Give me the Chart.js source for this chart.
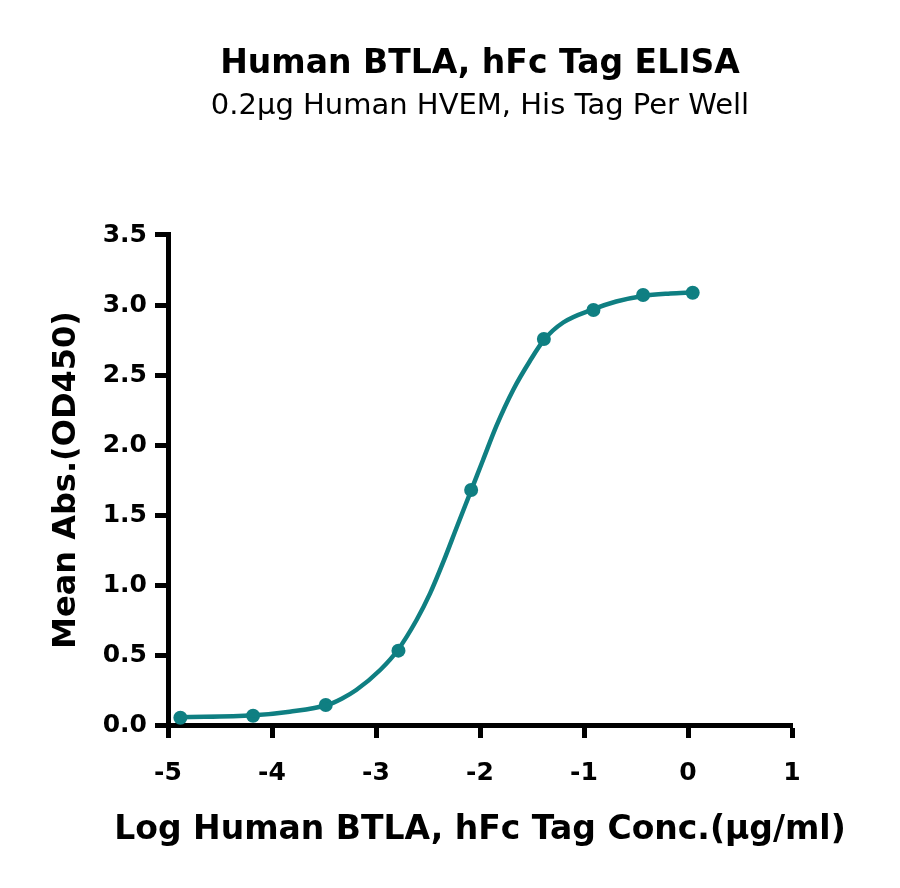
<!DOCTYPE html>
<html><head><meta charset="utf-8">
<script src="https://cdn.jsdelivr.net/npm/chart.js@4"></script>
<style>html,body{margin:0;padding:0;background:#fff}</style>
</head><body>
<canvas id="c" width="900" height="888" style="width:900px;height:888px;display:block"></canvas>
<script>
const titleText = "Human BTLA, hFc Tag ELISA";
const subtitleText = "0.2\u03bcg Human HVEM, His Tag Per Well";
const xTitle = "Log Human BTLA, hFc Tag Conc.(\u03bcg/ml)";
const yTitle = "Mean Abs.(OD450)";
// measured points
const logConc = [-4.881, -4.182, -3.483, -2.784, -2.085, -1.386, -0.909, -0.432, 0.045];
const meanAbs = [0.052, 0.066, 0.143, 0.531, 1.679, 2.757, 2.964, 3.071, 3.088];
// fitted curve
const fitX = [-4.881, -4.18, -3.83, -3.47, -3.33, -3.19, -2.96, -2.79, -2.61, -2.48, -2.35, -2.22, -2.08, -1.97, -1.84, -1.68, -1.52, -1.38, -1.20, -0.91, -0.69, -0.43, -0.17, 0.045];
const fitY = [0.055, 0.069, 0.095, 0.143, 0.188, 0.25, 0.393, 0.536, 0.75, 0.94, 1.17, 1.42, 1.685, 1.895, 2.14, 2.395, 2.60, 2.755, 2.875, 2.97, 3.025, 3.065, 3.082, 3.09];
const xTicks = [-5, -4, -3, -2, -1, 0, 1];
const yTicks = [0, 0.5, 1.0, 1.5, 2.0, 2.5, 3.0, 3.5];

const teal = "#0f7f82";
const FONT = "DejaVu Sans";

// x-axis title drawn wider than the plot area (as in the reference)
const xTitlePlugin = {
  id: "xTitleWide",
  afterDraw(chart) {
    const {ctx, chartArea, scales} = chart;
    ctx.save();
    ctx.font = 'bold 33px "' + FONT + '"';
    ctx.fillStyle = "#000";
    ctx.textAlign = "center";
    ctx.textBaseline = "middle";
    ctx.fillText(xTitle, (chartArea.left + chartArea.right) / 2, scales.x.bottom - 23);
    ctx.restore();
  }
};

new Chart(document.getElementById("c"), {
  type: "line",
  data: {
    datasets: [{
      data: fitX.map((x, i) => ({x: x, y: fitY[i]})),
      borderColor: teal,
      borderWidth: 4.5,
      pointRadius: 0,
      cubicInterpolationMode: "monotone",
      fill: false,
      clip: false
    }, {
      data: logConc.map((x, i) => ({x: x, y: meanAbs[i]})),
      showLine: false,
      borderColor: teal,
      backgroundColor: teal,
      pointRadius: 7,
      pointBackgroundColor: teal,
      pointBorderWidth: 0,
      clip: false
    }]
  },
  plugins: [xTitlePlugin],
  options: {
    responsive: false,
    animation: false,
    devicePixelRatio: 1,
    layout: {padding: {left: 43, right: 108, top: 0, bottom: 35}},
    plugins: {
      legend: {display: false},
      tooltip: {enabled: false},
      title: {
        display: true, text: titleText, fullSize: false, color: "#000",
        font: {family: FONT, size: 33, weight: "bold", lineHeight: 1.2},
        padding: {top: 45, bottom: 4}
      },
      subtitle: {
        display: true, text: subtitleText, fullSize: false, color: "#000",
        font: {family: FONT, size: 29, weight: "normal", lineHeight: 1.2},
        padding: {top: 0, bottom: 111.6}
      }
    },
    scales: {
      x: {
        type: "linear", min: -5, max: 1,
        afterBuildTicks: s => { s.ticks = xTicks.map(v => ({value: v})); },
        afterFit: s => { s.height = 128; },
        border: {display: true, color: "#000", width: 5},
        grid: {display: true, drawOnChartArea: false, drawTicks: true, tickLength: 13, tickWidth: 5, tickColor: "#000"},
        ticks: {color: "#000", padding: 20, font: {family: FONT, size: 25, weight: "bold"}, callback: v => String(v), maxRotation: 0},
        title: {display: false, text: xTitle}
      },
      y: {
        type: "linear", min: 0, max: 3.5,
        afterBuildTicks: s => { s.ticks = yTicks.map(v => ({value: v})); },
        afterFit: s => { s.width = 125; },
        border: {display: true, color: "#000", width: 5},
        grid: {display: true, drawOnChartArea: false, drawTicks: true, tickLength: 13, tickWidth: 5, tickColor: "#000"},
        ticks: {color: "#000", padding: 8, font: {family: FONT, size: 25, weight: "bold"}, callback: v => v.toFixed(1)},
        title: {display: true, text: yTitle, color: "#000", font: {family: FONT, size: 32, weight: "bold", lineHeight: 1.2}}
      }
    }
  }
});
</script>
</body></html>
